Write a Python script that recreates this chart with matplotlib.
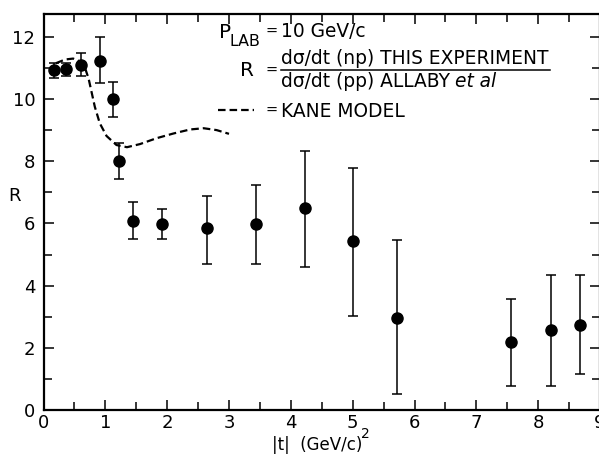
import matplotlib
matplotlib.use("Agg")
import matplotlib.pyplot as plt
from matplotlib.lines import Line2D
from matplotlib.ticker import MultipleLocator

plt.rcParams['font.family'] = ['DejaVu Sans']

# Data
t_vals = [0.17, 0.37, 0.60, 0.91, 1.12, 1.22, 1.45, 1.91, 2.65, 3.43, 4.23, 5.01, 5.72, 7.56, 8.21, 8.68]
R_vals = [10.93, 10.98, 11.09, 11.21, 9.99, 8.02, 6.09, 5.98, 5.85, 5.97, 6.50, 5.43, 2.97, 2.18, 2.57, 2.72]
R_hi = [11.15, 11.16, 11.49, 11.98, 10.55, 8.58, 6.69, 6.45, 6.88, 7.24, 8.33, 7.79, 5.46, 3.56, 4.35, 4.35]
R_lo = [10.69, 10.74, 10.73, 10.52, 9.42, 7.44, 5.50, 5.49, 4.69, 4.69, 4.61, 3.01, 0.51, 0.78, 0.78, 1.17]

kane_t = [0.20, 0.35, 0.48, 0.60, 0.68, 0.73, 0.78, 0.83, 0.91, 1.02, 1.18, 1.35, 1.56, 1.83, 2.10, 2.37, 2.59, 2.80, 3.00]
kane_R = [11.15, 11.27, 11.30, 11.20, 10.95, 10.65, 10.20, 9.75, 9.22, 8.81, 8.52, 8.45, 8.55, 8.74, 8.89, 9.02, 9.06, 9.00, 8.88]

W, H = 599, 455
fig = plt.figure(figsize=(W / 100, H / 100), dpi=100)

def fx(px):
    return px / W

def fy(py):
    return 1 - py / H

ax = fig.add_axes([fx(43.5), fy(410), fx(600) - fx(43.5), fy(14) - fy(410)])
ax.set_xlim(0, 9)
ax.set_ylim(0, (410 - 14) / 31.1)

err_lo = [r - l for r, l in zip(R_vals, R_lo)]
err_hi = [h - r for r, h in zip(R_vals, R_hi)]
ax.errorbar(t_vals, R_vals, yerr=[err_lo, err_hi], fmt='o', color='black',
            markersize=8, elinewidth=1.1, capsize=3.5, capthick=1.1, zorder=3)
ax.plot(kane_t, kane_R, color='black', lw=1.6, dashes=(3.4, 1.8), zorder=2)

for s in ['left', 'bottom', 'top', 'right']:
    ax.spines[s].set_linewidth(1.6)

ax.xaxis.set_major_locator(MultipleLocator(1))
ax.xaxis.set_minor_locator(MultipleLocator(0.5))
ax.yaxis.set_major_locator(MultipleLocator(2))
ax.yaxis.set_minor_locator(MultipleLocator(1))
ax.tick_params(which='both', direction='in', top=True, right=True, width=1.1)
ax.tick_params(which='major', length=7, labelsize=13, pad=3)
ax.tick_params(which='minor', length=6)
ax.tick_params(axis='y', which='major', pad=6)
for lab in ax.get_xticklabels() + ax.get_yticklabels():
    lab.set_fontweight('medium')

fig.text(fx(15), fy(196), 'R', fontsize=13, ha='center', va='center')
fig.text(fx(272), fy(450), '|t|  (GeV/c)', fontsize=12, ha='left', va='baseline')
fig.text(fx(361), fy(438), '2', fontsize=10, ha='left', va='baseline')

# Annotation block: size the numerator to the reference width
fs = 12.0
num = fig.text(fx(281), fy(64), 'd\u03c3/dt (np) THIS EXPERIMENT', fontsize=fs, va='baseline')
fig.canvas.draw()
r = fig.canvas.get_renderer()
wpx = num.get_window_extent(r).width
fs = fs * 266.0 / wpx
num.set_fontsize(fs)

fig.text(fx(219), fy(38), 'P', fontsize=fs + 1, va='baseline')
fig.text(fx(229), fy(46), 'LAB', fontsize=fs - 2, va='baseline')
fig.text(fx(272), fy(32), '=', fontsize=fs - 3, ha='center', va='center')
fig.text(fx(281), fy(37), '10 GeV/c', fontsize=fs, va='baseline')

fig.text(fx(240), fy(76), 'R', fontsize=fs + 1, va='baseline')
fig.text(fx(272), fy(71), '=', fontsize=fs - 3, ha='center', va='center')
fig.add_artist(Line2D([fx(281), fx(550)], [fy(69.5), fy(69.5)], transform=fig.transFigure,
                      color='black', lw=1.1))
den = fig.text(fx(281), fy(87), 'd\u03c3/dt (pp) ALLABY', fontsize=fs, va='baseline')
fig.canvas.draw()
dw = den.get_window_extent(fig.canvas.get_renderer()).width
fig.text(fx(281 + dw + 5), fy(87), 'et al', fontsize=fs, va='baseline', style='italic')

fig.add_artist(Line2D([fx(218), fx(254)], [fy(110), fy(110)], transform=fig.transFigure,
                      color='black', lw=1.6, dashes=(3.4, 1.8)))
fig.text(fx(272), fy(111), '=', fontsize=fs - 3, ha='center', va='center')
fig.text(fx(281), fy(117), 'KANE MODEL', fontsize=fs, va='baseline')

fig.savefig('out.png', dpi=100)
